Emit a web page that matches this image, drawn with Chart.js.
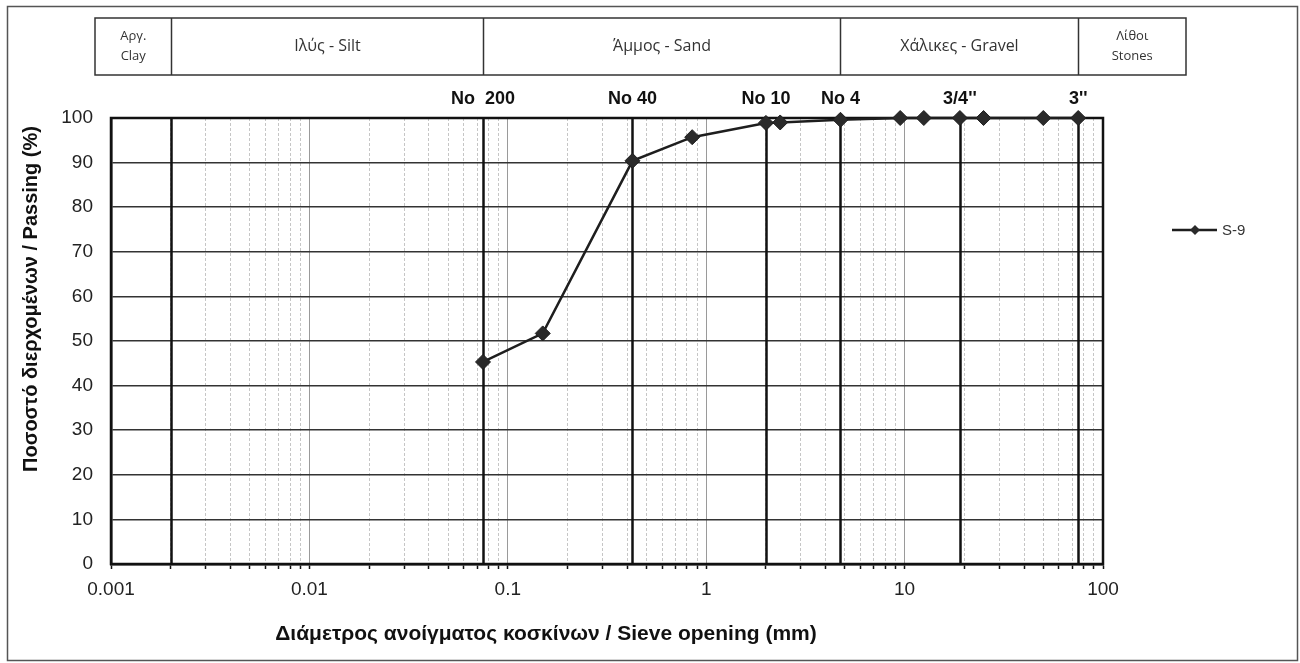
<!DOCTYPE html>
<html><head><meta charset="utf-8">
<script src="https://cdn.jsdelivr.net/npm/chart.js@4.4.0/dist/chart.umd.min.js"></script>
<style>html,body{margin:0;padding:0;background:#fff;}#wrap{width:1300px;height:663px;position:relative}</style>
</head><body><div id="wrap"><canvas id="c" width="1300" height="663"></canvas></div>
<script>
// ---- data ----
const seriesName = 'S-9';
const sieveSizes = [0.075, 0.15, 0.425, 0.85, 2, 2.36, 4.75, 9.5, 12.5, 19, 25, 50, 75];
const passing    = [45.3, 51.7, 90.4, 95.7, 98.9, 99.0, 99.6, 100, 100, 100, 100, 100, 100];
const xDecades = [0.001, 0.01, 0.1, 1, 10, 100];
const xTickLabels = ['0.001', '0.01', '0.1', '1', '10', '100'];
const xMinorMultipliers = [1, 2, 3, 4, 5, 6, 7, 8, 9];
const yTicks = [0, 10, 20, 30, 40, 50, 60, 70, 80, 90, 100];
const sieveMarkerLabels = ['No  200', 'No 40', 'No 10', 'No 4', "3/4''", "3''"];
const sieveMarkerSizes  = [0.075, 0.425, 2, 4.75, 19, 75];
const boundaryLines = [0.002, 0.075, 0.425, 2, 4.75, 19, 75];
const zoneNames = [['Αργ.', 'Clay'], ['Ιλύς - Silt'], ['Άμμος - Sand'], ['Χάλικες - Gravel'], ['Λίθοι', 'Stones']];
const zoneBounds = [0.002, 0.075, 4.75, 75];
const yTitle = 'Ποσοστό διερχομένων / Passing (%)';
const xTitle = 'Διάμετρος ανοίγματος κοσκίνων / Sieve opening (mm)';

// tick positions for log grid
const xTickValues = [];
xDecades.slice(0, -1).forEach(d => xMinorMultipliers.forEach(m => xTickValues.push(+(d * m).toPrecision(6))));
xTickValues.push(xDecades[xDecades.length - 1]);

const isDecade = v => Math.abs(Math.log10(v) - Math.round(Math.log10(v))) < 1e-9;
const SANS = "'Liberation Sans', Arial, sans-serif";

const overlay = {
  id: 'overlay',
  beforeDatasetsDraw(chart) {
    const {ctx, chartArea: a, scales: {x}} = chart;
    ctx.save();
    ctx.strokeStyle = '#111';
    ctx.lineWidth = 2.5;
    boundaryLines.forEach(v => {
      const px = Math.round(x.getPixelForValue(v)) + 0.5;
      ctx.beginPath(); ctx.moveTo(px, a.top); ctx.lineTo(px, a.bottom); ctx.stroke();
    });
    ctx.strokeRect(a.left, a.top, a.right - a.left, a.bottom - a.top);
    ctx.restore();
  },
  afterDraw(chart) {
    const {ctx, chartArea: a, scales: {x}} = chart;
    ctx.save();
    // outer frame
    ctx.strokeStyle = '#555'; ctx.lineWidth = 1.5;
    ctx.strokeRect(7.5, 6.5, 1290, 654);
    // header table
    const hx0 = 95, hx1 = 1186, hy0 = 18, hy1 = 75;
    ctx.strokeStyle = '#333'; ctx.lineWidth = 1.5;
    ctx.strokeRect(hx0, hy0, hx1 - hx0, hy1 - hy0);
    const edges = [hx0, ...zoneBounds.map(v => Math.round(x.getPixelForValue(v)) + 0.5), hx1];
    for (let i = 1; i < edges.length - 1; i++) {
      ctx.beginPath(); ctx.moveTo(edges[i], hy0); ctx.lineTo(edges[i], hy1); ctx.stroke();
    }
    ctx.fillStyle = '#333'; ctx.textAlign = 'center'; ctx.textBaseline = 'middle';
    zoneNames.forEach((lines, i) => {
      const cx = (edges[i] + edges[i + 1]) / 2;
      if (lines.length === 1) {
        ctx.font = "16px 'Open Sans', sans-serif";
        ctx.fillText(lines[0], cx, (hy0 + hy1) / 2);
      } else {
        ctx.font = "13px 'Open Sans', sans-serif";
        ctx.fillText(lines[0], cx, 36);
        ctx.fillText(lines[1], cx, 56);
      }
    });
    // sieve labels
    ctx.fillStyle = '#111';
    ctx.font = 'bold 18px ' + SANS;
    ctx.textBaseline = 'alphabetic';
    sieveMarkerLabels.forEach((t, i) => {
      ctx.fillText(t, x.getPixelForValue(sieveMarkerSizes[i]), 104);
    });
    // axis titles
    ctx.font = 'bold 21px ' + SANS;
    ctx.textBaseline = 'middle';
    ctx.textAlign = 'center';
    ctx.fillText(xTitle, 546, 634);
    ctx.font = 'bold 20px ' + SANS;
    ctx.save();
    ctx.translate(31, 299); ctx.rotate(-Math.PI / 2);
    ctx.fillText(yTitle, 0, 0);
    ctx.restore();
    // legend
    const ds = chart.data.datasets[0];
    const ly = 230;
    ctx.strokeStyle = ds.borderColor; ctx.lineWidth = 2.5;
    ctx.beginPath(); ctx.moveTo(1172, ly); ctx.lineTo(1217, ly); ctx.stroke();
    ctx.fillStyle = ds.backgroundColor;
    ctx.beginPath(); ctx.moveTo(1195, ly - 5); ctx.lineTo(1200, ly); ctx.lineTo(1195, ly + 5); ctx.lineTo(1190, ly); ctx.closePath(); ctx.fill();
    ctx.fillStyle = '#333'; ctx.textAlign = 'left';
    ctx.font = '15px ' + SANS;
    ctx.fillText(ds.label, 1222, ly + 1);
    ctx.restore();
  }
};

new Chart(document.getElementById('c'), {
  type: 'line',
  data: {
    datasets: [{
      label: seriesName,
      data: sieveSizes.map((v, i) => ({x: v, y: passing[i]})),
      borderColor: '#1e1e1e',
      backgroundColor: '#2a2a2a',
      borderWidth: 2.5,
      pointStyle: 'rectRot',
      pointRadius: 7.5,
      pointBorderWidth: 1,
      pointBorderColor: '#1e1e1e',
      tension: 0,
      clip: false
    }]
  },
  options: {
    responsive: false,
    animation: false,
    layout: {padding: {left: 0, top: 118, right: 197, bottom: 0}},
    plugins: {legend: {display: false}, tooltip: {enabled: false}},
    scales: {
      x: {
        type: 'logarithmic', min: 0.001, max: 100,
        afterBuildTicks: s => { s.ticks = xTickValues.map(v => ({value: v})); },
        afterFit: s => { s.height = 99; },
        ticks: {
          autoSkip: false, maxRotation: 0, minRotation: 0, padding: 9, color: '#222',
          font: {family: SANS, size: 19},
          callback: (v) => { const k = xDecades.findIndex(d => Math.abs(d - v) / d < 1e-6); return k >= 0 ? xTickLabels[k] : ''; }
        },
        grid: {
          color: c => (c.tick && isDecade(c.tick.value)) ? '#9a9a9a' : '#c6c6c6',
          lineWidth: 1, drawTicks: true, tickLength: 5, tickColor: '#111', tickWidth: 1.5
        },
        border: {display: true, color: '#111', width: 2.5,
          dash: c => (c.tick && !isDecade(c.tick.value)) ? [3, 2] : []}
      },
      y: {
        min: 0, max: 100,
        afterBuildTicks: s => { s.ticks = yTicks.map(v => ({value: v})); },
        afterFit: s => { s.width = 111; },
        ticks: {padding: 18, color: '#222', font: {family: SANS, size: 19}},
        grid: {color: '#333', lineWidth: 1.5, drawTicks: false},
        border: {display: true, color: '#111', width: 2.5}
      }
    }
  },
  plugins: [overlay]
});
</script></body></html>
